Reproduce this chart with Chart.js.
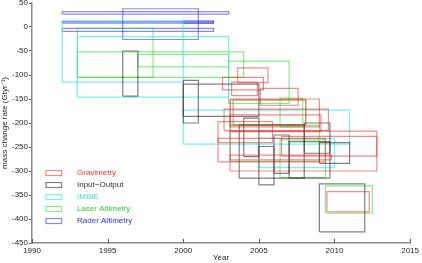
<!DOCTYPE html>
<html>
<head>
<meta charset="utf-8">
<script src="https://cdn.jsdelivr.net/npm/chart.js@4"></script>
<style>
  html, body { margin: 0; padding: 0; background: #fff; }
  #wrap { width: 422px; height: 263px; }
</style>
</head>
<body>
<div id="wrap"><canvas id="chart"></canvas></div>
<script>
// each box: [startYear, endYear, lowRate, highRate]
const gravimetry = [
  [2003.6, 2005.6, -116, -85],
  [2002.6, 2005.3, -131, -105],
  [2003.2, 2004.9, -143, -115],
  [2005.1, 2007.6, -163, -128],
  [2003.1, 2009.0, -208, -150],
  [2003.3, 2008.1, -204, -152],
  [2002.7, 2009.6, -216, -171],
  [2002.3, 2005.9, -241, -197],
  [2003.1, 2012.8, -300, -217],
  [2006.5, 2012.8, -269, -228],
  [2003.1, 2009.1, -218, -183],
  [2002.3, 2009.4, -281, -232],
  [2003.1, 2009.8, -277, -267],
  [2009.5, 2012.3, -385, -343]
];
const inputOutput = [
  [1996.0, 1997.0, -144, -50],
  [2000.0, 2001.0, -200, -111],
  [2000.0, 2005.0, -186, -119],
  [2004.0, 2005.0, -270, -190],
  [2003.7, 2008.0, -315, -204],
  [2005.0, 2006.0, -329, -249],
  [2006.0, 2007.0, -305, -225],
  [2007.0, 2009.7, -315, -239],
  [2008.0, 2009.7, -263, -200],
  [2009.0, 2011.0, -284, -241],
  [2009.0, 2012.0, -427, -327]
];
const imbie = [
  [1992.0, 2000.0, -115, 13],
  [1993.0, 2003.0, -146, -20],
  [2000.0, 2011.0, -244, -173],
  [2005.0, 2010.0, -293, -232]
];
const laserAltimetry = [
  [1993.0, 1998.0, -105, -3],
  [1993.0, 2004.0, -105, -52],
  [1997.0, 2003.0, -83, -57],
  [2003.0, 2007.0, -159, -71],
  [2003.1, 2008.1, -204, -152],
  [2006.4, 2007.9, -208, -148],
  [2003.1, 2009.0, -280, -205],
  [2006.4, 2009.4, -314, -235],
  [2009.4, 2012.5, -388, -331]
];
const raderAltimetry = [
  [1992.0, 2003.0, 27, 32],
  [1996.0, 2001.0, -26, 38],
  [1992.0, 2002.0, 8, 11],
  [2000.0, 2002.0, 8, 13],
  [1992.0, 2002.0, -9, -3]
];

const seriesNames = ["Gravimetry", "Input\u2212Output", "IMBIE", "Laser Altimetry", "Rader Altimetry"];
const seriesBoxes = [gravimetry, inputOutput, imbie, laserAltimetry, raderAltimetry];
const lineColors = ["rgba(235,40,40,0.55)", "rgba(40,40,40,0.6)", "rgba(60,235,235,0.7)",
                    "rgba(40,220,40,0.55)", "rgba(40,40,220,0.55)"];
const textColors = ["#e83030", "#333333", "#40d8d8", "#30c830", "#3030d0"];

const xTicks = [1990, 1995, 2000, 2005, 2010, 2015];

const datasets = [];
seriesBoxes.forEach((boxes, i) => {
  boxes.forEach((b) => {
    datasets.push({
      label: seriesNames[i],
      data: [
        { x: b[0], y: b[2] }, { x: b[1], y: b[2] },
        { x: b[1], y: b[3] }, { x: b[0], y: b[3] },
        { x: b[0], y: b[2] }
      ],
      borderColor: lineColors[i],
      borderWidth: 1.2,
      pointRadius: 0,
      fill: false,
      tension: 0
    });
  });
});

// inward ticks on the year axis and the box legend
const extras = {
  id: "extras",
  afterDraw(chart) {
    const ctx = chart.ctx;
    const xs = chart.scales.x;
    const bottom = chart.chartArea.bottom;
    ctx.save();
    ctx.strokeStyle = "#555";
    ctx.lineWidth = 1;
    xTicks.forEach((t) => {
      const px = Math.round(xs.getPixelForValue(t)) + 0.5;
      ctx.beginPath();
      ctx.moveTo(px, bottom);
      ctx.lineTo(px, bottom - 4);
      ctx.stroke();
    });

    ctx.font = "8px 'Liberation Sans', Arial, sans-serif";
    ctx.textBaseline = "middle";
    seriesNames.forEach((name, i) => {
      const y = 173 + i * 12;
      ctx.strokeStyle = lineColors[i];
      ctx.lineWidth = 1.2;
      ctx.strokeRect(46, y - 2.5, 15.5, 5);
      ctx.fillStyle = textColors[i];
      ctx.fillText(name, 77, y);
    });
    ctx.restore();
  }
};

new Chart(document.getElementById("chart").getContext("2d"), {
  type: "line",
  data: { datasets },
  options: {
    responsive: true,
    maintainAspectRatio: false,
    animation: false,
    layout: { padding: { top: 3, right: 10, left: 0, bottom: 0 } },
    plugins: {
      legend: { display: false },
      tooltip: { enabled: false }
    },
    scales: {
      x: {
        type: "linear",
        min: 1990,
        max: 2015,
        afterBuildTicks: (s) => { s.ticks = xTicks.map((v) => ({ value: v })); },
        afterFit: (s) => { s.height = 20; s.paddingLeft = 0; },
        ticks: {
          padding: 3,
          color: "#222",
          font: { size: 8, family: "'Liberation Sans', Arial, sans-serif" },
          callback: (v) => String(v)
        },
        grid: { display: false, drawTicks: false, tickLength: 0 },
        border: { display: true, color: "#8a8a8a", width: 1.5 },
        title: {
          display: true,
          text: "Year",
          color: "#222",
          padding: 0,
          font: { size: 8, family: "'Liberation Sans', Arial, sans-serif" }
        }
      },
      y: {
        min: -450,
        max: 50,
        afterFit: (s) => { s.width = 32; s.paddingTop = 0; s.paddingBottom = 0; },
        ticks: {
          stepSize: 50,
          padding: 1,
          color: "#222",
          font: { size: 8, family: "'Liberation Sans', Arial, sans-serif" },
          callback: (v) => String(v)
        },
        grid: { drawOnChartArea: false, drawTicks: true, tickLength: 3, color: "#555" },
        border: { display: true, color: "#8a8a8a", width: 1.5 },
        title: {
          display: true,
          text: "mass change rate (Gtyr\u207B\u00B9)",
          color: "#222",
          padding: 0,
          font: { size: 8, family: "'Liberation Sans', Arial, sans-serif" }
        }
      }
    }
  },
  plugins: [extras]
});
</script>
</body>
</html>
